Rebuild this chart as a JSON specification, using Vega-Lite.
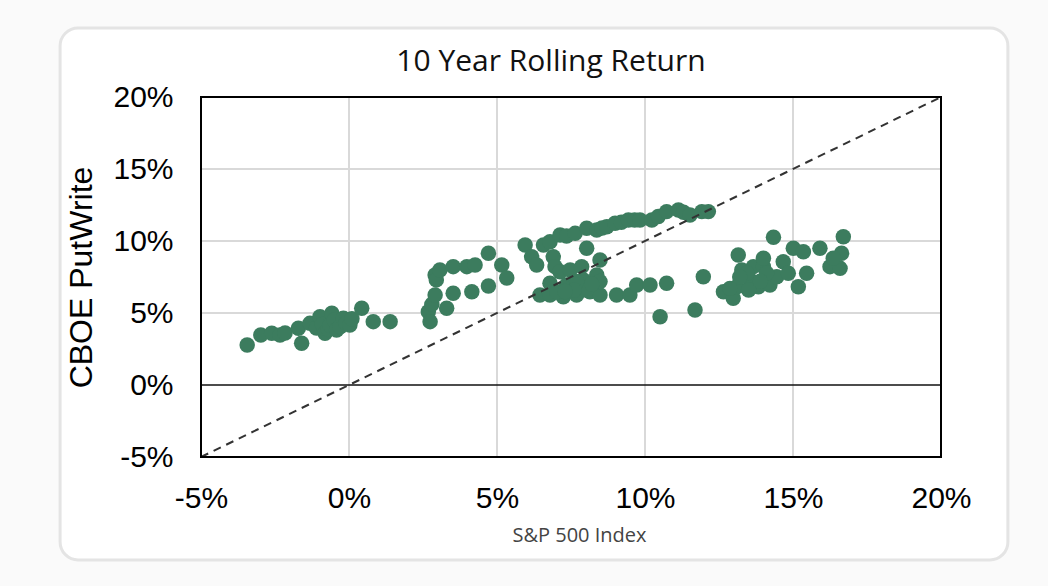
{
  "$schema": "https://vega.github.io/schema/vega-lite/v6.json",
  "width": 740,
  "height": 360,
  "autosize": "none",
  "padding": {"left": 201, "top": 97, "right": 107, "bottom": 129},
  "background": "#fafafa",
  "title": {
    "text": "10 Year Rolling Return",
    "font": "Open Sans", "fontSize": 30, "fontWeight": "normal", "color": "#111111",
    "offset": -50, "dx": -20, "zindex": 1
  },
  "config": {
    "view": {"stroke": null},
    "axis": {"domain": false, "ticks": false, "grid": false}
  },
  "data": {"values": [{}]},
  "datasets": {
    "returns": [
      {"sp": -3.44, "pw": 2.78}, {"sp": -2.98, "pw": 3.47}, {"sp": -2.61, "pw": 3.59},
      {"sp": -2.33, "pw": 3.47}, {"sp": -2.16, "pw": 3.61}, {"sp": -1.71, "pw": 3.94},
      {"sp": -1.60, "pw": 2.90}, {"sp": -1.32, "pw": 4.28}, {"sp": -1.10, "pw": 3.95},
      {"sp": -0.98, "pw": 4.74}, {"sp": -0.90, "pw": 4.20}, {"sp": -0.81, "pw": 3.59},
      {"sp": -0.70, "pw": 3.85}, {"sp": -0.64, "pw": 4.17}, {"sp": -0.58, "pw": 4.98},
      {"sp": -0.50, "pw": 4.50}, {"sp": -0.42, "pw": 3.82}, {"sp": -0.30, "pw": 4.05},
      {"sp": -0.19, "pw": 4.63}, {"sp": -0.10, "pw": 4.30}, {"sp": 0.03, "pw": 4.17},
      {"sp": 0.10, "pw": 4.60}, {"sp": 0.43, "pw": 5.33}, {"sp": 0.82, "pw": 4.40},
      {"sp": 1.39, "pw": 4.40}, {"sp": 2.68, "pw": 5.09}, {"sp": 2.74, "pw": 4.40},
      {"sp": 2.80, "pw": 5.60}, {"sp": 2.91, "pw": 6.25}, {"sp": 3.30, "pw": 5.33},
      {"sp": 2.91, "pw": 7.64}, {"sp": 2.95, "pw": 7.30}, {"sp": 3.07, "pw": 7.99},
      {"sp": 3.52, "pw": 8.22}, {"sp": 3.98, "pw": 8.22}, {"sp": 4.26, "pw": 8.33},
      {"sp": 4.71, "pw": 9.15}, {"sp": 5.16, "pw": 8.33}, {"sp": 3.52, "pw": 6.37},
      {"sp": 4.15, "pw": 6.48}, {"sp": 4.71, "pw": 6.88}, {"sp": 5.33, "pw": 7.43},
      {"sp": 5.95, "pw": 9.72}, {"sp": 6.17, "pw": 8.91}, {"sp": 6.34, "pw": 8.33},
      {"sp": 6.57, "pw": 9.72}, {"sp": 6.79, "pw": 9.95}, {"sp": 7.13, "pw": 10.42},
      {"sp": 6.90, "pw": 8.91}, {"sp": 6.96, "pw": 8.22}, {"sp": 7.13, "pw": 7.87},
      {"sp": 7.35, "pw": 10.35}, {"sp": 7.64, "pw": 10.53}, {"sp": 8.03, "pw": 10.88},
      {"sp": 8.37, "pw": 10.76}, {"sp": 8.55, "pw": 10.90}, {"sp": 8.71, "pw": 10.99},
      {"sp": 8.99, "pw": 11.23}, {"sp": 9.20, "pw": 11.30}, {"sp": 9.44, "pw": 11.46},
      {"sp": 9.65, "pw": 11.45}, {"sp": 9.83, "pw": 11.46}, {"sp": 10.23, "pw": 11.46},
      {"sp": 10.45, "pw": 11.70}, {"sp": 10.73, "pw": 12.04}, {"sp": 11.13, "pw": 12.15},
      {"sp": 11.30, "pw": 12.00}, {"sp": 11.52, "pw": 11.81}, {"sp": 11.92, "pw": 12.04},
      {"sp": 12.14, "pw": 12.04}, {"sp": 8.03, "pw": 9.49}, {"sp": 8.48, "pw": 8.68},
      {"sp": 7.47, "pw": 7.99}, {"sp": 7.86, "pw": 8.22}, {"sp": 8.37, "pw": 7.64},
      {"sp": 7.92, "pw": 7.29}, {"sp": 6.79, "pw": 7.06}, {"sp": 7.35, "pw": 6.94},
      {"sp": 6.45, "pw": 6.25}, {"sp": 6.79, "pw": 6.25}, {"sp": 7.24, "pw": 6.13},
      {"sp": 7.69, "pw": 6.25}, {"sp": 8.14, "pw": 6.48}, {"sp": 8.48, "pw": 6.25},
      {"sp": 9.04, "pw": 6.25}, {"sp": 9.49, "pw": 6.25}, {"sp": 9.72, "pw": 6.94},
      {"sp": 10.17, "pw": 6.94}, {"sp": 10.73, "pw": 7.06}, {"sp": 10.51, "pw": 4.74},
      {"sp": 11.69, "pw": 5.21}, {"sp": 11.97, "pw": 7.52}, {"sp": 8.03, "pw": 6.60},
      {"sp": 8.48, "pw": 7.18}, {"sp": 7.69, "pw": 7.18}, {"sp": 7.02, "pw": 6.48},
      {"sp": 7.60, "pw": 6.60}, {"sp": 7.30, "pw": 6.50}, {"sp": 8.20, "pw": 7.00},
      {"sp": 14.34, "pw": 10.26}, {"sp": 16.70, "pw": 10.30}, {"sp": 13.15, "pw": 9.03},
      {"sp": 13.27, "pw": 7.99}, {"sp": 12.65, "pw": 6.48}, {"sp": 12.98, "pw": 6.02},
      {"sp": 13.10, "pw": 6.83}, {"sp": 13.55, "pw": 7.29}, {"sp": 13.66, "pw": 8.22},
      {"sp": 14.00, "pw": 8.22}, {"sp": 13.83, "pw": 6.83}, {"sp": 14.22, "pw": 6.94},
      {"sp": 14.45, "pw": 7.52}, {"sp": 14.67, "pw": 8.56}, {"sp": 15.01, "pw": 9.49},
      {"sp": 15.35, "pw": 9.26}, {"sp": 14.84, "pw": 7.76}, {"sp": 15.18, "pw": 6.83},
      {"sp": 15.46, "pw": 7.76}, {"sp": 15.91, "pw": 9.49}, {"sp": 16.25, "pw": 8.22},
      {"sp": 16.59, "pw": 8.10}, {"sp": 16.64, "pw": 9.15}, {"sp": 16.36, "pw": 8.80},
      {"sp": 14.11, "pw": 7.76}, {"sp": 13.44, "pw": 7.76}, {"sp": 12.87, "pw": 6.71},
      {"sp": 14.00, "pw": 8.80}, {"sp": 13.50, "pw": 6.60}, {"sp": 13.90, "pw": 7.20},
      {"sp": 13.20, "pw": 7.50}
    ]
  },
  "layer": [
    {
      "mark": {"type": "rect", "fill": "white", "stroke": "#e4e4e4", "strokeWidth": 3, "cornerRadius": 18},
      "encoding": {
        "x": {"datum": -9.76, "type": "quantitative", "scale": {"domain": [-5, 20], "nice": false, "zero": false}},
        "x2": {"datum": 22.26},
        "y": {"datum": 24.79, "type": "quantitative", "scale": {"domain": [-5, 20], "nice": false, "zero": false}},
        "y2": {"datum": -12.15}
      }
    },
    {"mark": {"type": "rule", "color": "#d9d9d9", "strokeWidth": 2}, "encoding": {"x": {"datum": 0}}},
    {"mark": {"type": "rule", "color": "#d9d9d9", "strokeWidth": 2}, "encoding": {"x": {"datum": 5}}},
    {"mark": {"type": "rule", "color": "#d9d9d9", "strokeWidth": 2}, "encoding": {"x": {"datum": 10}}},
    {"mark": {"type": "rule", "color": "#d9d9d9", "strokeWidth": 2}, "encoding": {"x": {"datum": 15}}},
    {"mark": {"type": "rule", "color": "#d9d9d9", "strokeWidth": 2}, "encoding": {"y": {"datum": 5}}},
    {"mark": {"type": "rule", "color": "#d9d9d9", "strokeWidth": 2}, "encoding": {"y": {"datum": 10}}},
    {"mark": {"type": "rule", "color": "#d9d9d9", "strokeWidth": 2}, "encoding": {"y": {"datum": 15}}},
    {"mark": {"type": "rule", "color": "#111111", "strokeWidth": 1.5}, "encoding": {"y": {"datum": 0}}},
    {
      "data": {"name": "returns"},
      "mark": {"type": "circle", "size": 240, "color": "#3c7c5e", "opacity": 1},
      "encoding": {
        "x": {
          "field": "sp", "type": "quantitative",
          "scale": {"domain": [-5, 20], "nice": false, "zero": false},
          "axis": {
            "zindex": 1,
            "values": [-5, 0, 5, 10, 15, 20], "labelExpr": "datum.value + '%'",
            "labelFont": "Liberation Sans", "labelFontSize": 30, "labelColor": "#000000",
            "labelPadding": 26, "labelFlush": false,
            "title": "S&P 500 Index", "titleFont": "Open Sans", "titleFontSize": 20,
            "titleFontWeight": "normal", "titleColor": "#444444", "titlePadding": 12, "titleX": 378
          }
        },
        "y": {
          "field": "pw", "type": "quantitative",
          "scale": {"domain": [-5, 20], "nice": false, "zero": false},
          "axis": {
            "zindex": 1,
            "values": [-5, 0, 5, 10, 15, 20], "labelExpr": "datum.value + '%'",
            "labelFont": "Liberation Sans", "labelFontSize": 30, "labelColor": "#000000",
            "labelPadding": 28, "labelFlush": false,
            "title": "CBOE PutWrite", "titleFont": "Liberation Sans", "titleFontSize": 32,
            "titleFontWeight": "normal", "titleColor": "#000000", "titlePadding": 14
          }
        }
      }
    },
    {
      "mark": {"type": "rule", "color": "#333333", "strokeWidth": 2, "strokeDash": [8, 6]},
      "encoding": {
        "x": {"datum": -5}, "x2": {"datum": 20},
        "y": {"datum": -5}, "y2": {"datum": 20}
      }
    },
    {
      "mark": {"type": "rect", "fillOpacity": 0, "stroke": "#000000", "strokeWidth": 2},
      "encoding": {
        "x": {"datum": -5}, "x2": {"datum": 20},
        "y": {"datum": -5}, "y2": {"datum": 20}
      }
    }
  ]
}
